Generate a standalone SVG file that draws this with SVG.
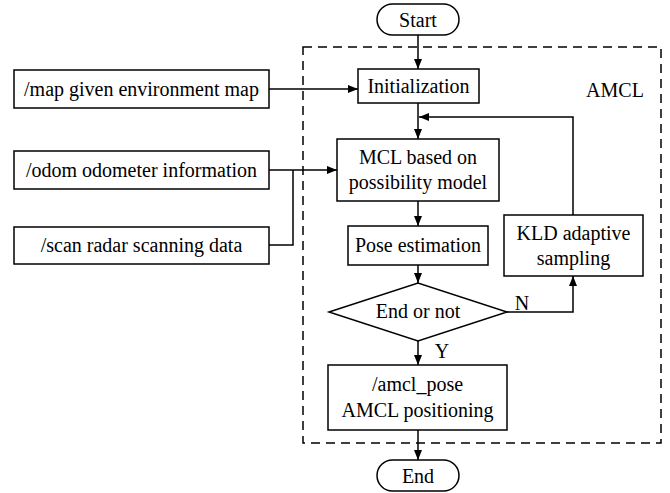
<svg xmlns="http://www.w3.org/2000/svg" width="670" height="493" viewBox="0 0 670 493">
<defs>
<marker id="ah" viewBox="0 0 10 8" refX="10" refY="4" markerWidth="10" markerHeight="8" markerUnits="userSpaceOnUse" orient="auto">
<path d="M0,0 L10,4 L0,8 Z" fill="#000"/>
</marker>
</defs>
<rect width="670" height="493" fill="#fff"/>
<g id="amcl-region">
<rect x="303" y="47" width="358" height="396" fill="none" stroke="#000" stroke-width="1.5" stroke-dasharray="9,6"/>
<text x="615" y="97" font-family="Liberation Serif" font-size="20" text-anchor="middle">AMCL</text>
</g>
<g id="connectors" fill="none" stroke="#000" stroke-width="1.5">
<path d="M418,35 V69" marker-end="url(#ah)"/>
<path d="M418,103 V139" marker-end="url(#ah)"/>
<path d="M573,215 V117 H419" marker-end="url(#ah)"/>
<path d="M269,89 H358" marker-end="url(#ah)"/>
<path d="M269,170 H337" marker-end="url(#ah)"/>
<path d="M269,245 H293 V170"/>
<path d="M418,201 V226" marker-end="url(#ah)"/>
<path d="M418,265 V283" marker-end="url(#ah)"/>
<path d="M507,312 H573 V276" marker-end="url(#ah)"/>
<path d="M418,341 V365" marker-end="url(#ah)"/>
<path d="M418,430 V460" marker-end="url(#ah)"/>
</g>
<g id="labels" font-family="Liberation Serif" font-size="20" text-anchor="middle">
<text x="522" y="310">N</text>
<text x="442" y="358">Y</text>
</g>
<g id="start">
<rect x="377" y="4" width="82" height="31" rx="15.5" fill="#fff" stroke="#000" stroke-width="1.5"/>
<text x="418" y="27" font-family="Liberation Serif" font-size="20" text-anchor="middle">Start</text>
</g>
<g id="init">
<rect x="358" y="69" width="121" height="34" fill="#fff" stroke="#000" stroke-width="1.5"/>
<text x="418.5" y="93" font-family="Liberation Serif" font-size="20" text-anchor="middle">Initialization</text>
</g>
<g id="map">
<rect x="14" y="70" width="255" height="38" fill="#fff" stroke="#000" stroke-width="1.5"/>
<text x="141.5" y="96" font-family="Liberation Serif" font-size="20" text-anchor="middle">/map given environment map</text>
</g>
<g id="odom">
<rect x="14" y="151" width="255" height="38" fill="#fff" stroke="#000" stroke-width="1.5"/>
<text x="141.5" y="177" font-family="Liberation Serif" font-size="20" text-anchor="middle">/odom odometer information</text>
</g>
<g id="scan">
<rect x="14" y="227" width="255" height="37" fill="#fff" stroke="#000" stroke-width="1.5"/>
<text x="141.5" y="252" font-family="Liberation Serif" font-size="20" text-anchor="middle">/scan radar scanning data</text>
</g>
<g id="mcl">
<rect x="337" y="139" width="162" height="62" fill="#fff" stroke="#000" stroke-width="1.5"/>
<text x="418" y="164" font-family="Liberation Serif" font-size="20" text-anchor="middle">MCL based on</text>
<text x="418" y="189" font-family="Liberation Serif" font-size="20" text-anchor="middle">possibility model</text>
</g>
<g id="pose">
<rect x="348" y="226" width="140" height="39" fill="#fff" stroke="#000" stroke-width="1.5"/>
<text x="418" y="252" font-family="Liberation Serif" font-size="20" text-anchor="middle">Pose estimation</text>
</g>
<g id="kld">
<rect x="504" y="215" width="139" height="61" fill="#fff" stroke="#000" stroke-width="1.5"/>
<text x="573.5" y="240" font-family="Liberation Serif" font-size="20" text-anchor="middle">KLD adaptive</text>
<text x="573.5" y="265" font-family="Liberation Serif" font-size="20" text-anchor="middle">sampling</text>
</g>
<g id="decision">
<polygon points="329,312 418,283 507,312 418,341" fill="#fff" stroke="#000" stroke-width="1.5"/>
<text x="418" y="318" font-family="Liberation Serif" font-size="20" text-anchor="middle">End or not</text>
</g>
<g id="amcl-pose">
<rect x="328" y="365" width="179" height="65" fill="#fff" stroke="#000" stroke-width="1.5"/>
<text x="417.5" y="391" font-family="Liberation Serif" font-size="20" text-anchor="middle">/amcl_pose</text>
<text x="417.5" y="417" font-family="Liberation Serif" font-size="20" text-anchor="middle">AMCL positioning</text>
</g>
<g id="end">
<rect x="377" y="460" width="82" height="31" rx="15.5" fill="#fff" stroke="#000" stroke-width="1.5"/>
<text x="418" y="483" font-family="Liberation Serif" font-size="20" text-anchor="middle">End</text>
</g>
</svg>
